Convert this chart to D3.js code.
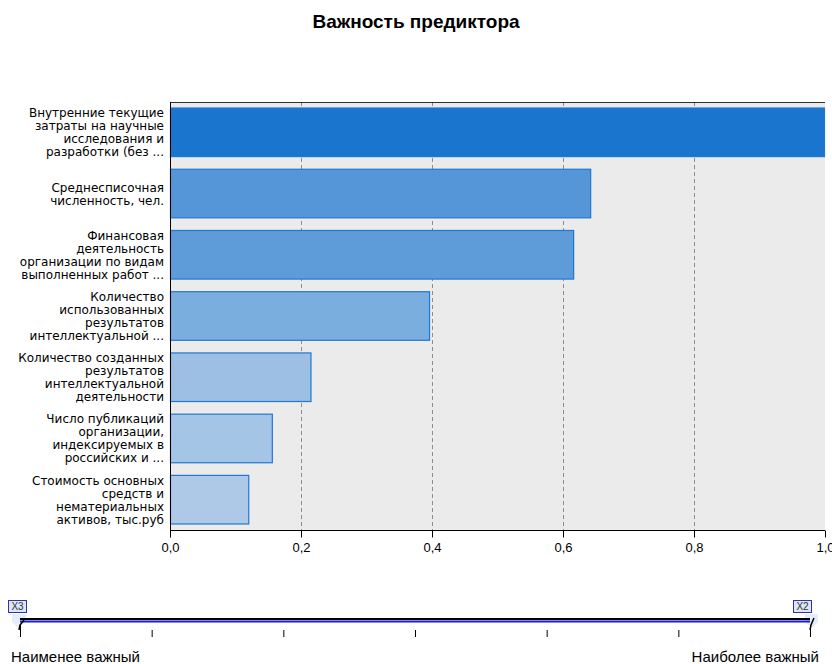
<!DOCTYPE html>
<html><head><meta charset="utf-8">
<script src="https://cdn.jsdelivr.net/npm/d3@7"></script>
<style>body{margin:0;background:#fff;}text{font-family:"Liberation Sans",Arial,sans-serif;}</style>
</head><body>
<svg id="c" width="832" height="664"></svg>
<script>
const categories = [
  ["Внутренние текущие","затраты на научные","исследования и","разработки (без ..."],
  ["Среднесписочная","численность, чел."],
  ["Финансовая","деятельность","организации по видам","выполненных работ ..."],
  ["Количество","использованных","результатов","интеллектуальной ..."],
  ["Количество созданных","результатов","интеллектуальной","деятельности"],
  ["Число публикаций","организации,","индексируемых в","российских и ..."],
  ["Стоимость основных","средств и","нематериальных","активов, тыс.руб"]
];
const values = [1.0, 0.643, 0.617, 0.397, 0.216, 0.157, 0.121];
const colors = ["#1a75cf","#5596d8","#5e9bd9","#7aaedf","#9cbfe3","#a4c5e6","#aec9e8"];
const xTicks = [0,0.2,0.4,0.6,0.8,1.0];
const sliderTicks = [0,1,2,3,4,5,6];

const svg = d3.select("#c");
const L=170,R=825,T=102,B=530;
const x = d3.scaleLinear().domain([0,1]).range([L,R]);
const y = d3.scaleBand().domain(d3.range(values.length)).range([T,B]).paddingInner(0.19).paddingOuter(0.09);

svg.append("text").attr("x",416).attr("y",28).attr("text-anchor","middle")
  .style("font-size","19px").style("font-weight","bold").text("Важность предиктора");

svg.append("rect").attr("x",L).attr("y",T).attr("width",R-L).attr("height",B-T).attr("fill","#ebebeb");

svg.append("g").selectAll("line").data(xTicks.slice(1,-1)).join("line")
  .attr("x1",d=>x(d)+0.5).attr("x2",d=>x(d)+0.5).attr("y1",T).attr("y2",B)
  .attr("stroke","#8c8c8c").attr("stroke-dasharray","4,3").attr("stroke-width",1);

svg.append("g").selectAll("rect").data(values).join("rect")
  .attr("x",x(0)+0.5).attr("y",(d,i)=>y(i)+0.5)
  .attr("width",d=>x(d)-x(0)-1).attr("height",y.bandwidth()-1)
  .attr("fill",(d,i)=>colors[i]).attr("stroke","#1f78d1").attr("stroke-width",1.2);

svg.append("line").attr("x1",L+0.5).attr("x2",L+0.5).attr("y1",T).attr("y2",B+6).attr("stroke","#000");
svg.append("line").attr("x1",L).attr("x2",R).attr("y1",T+0.5).attr("y2",T+0.5).attr("stroke","#000").attr("stroke-width",0.8);

const ax = svg.append("g").attr("transform",`translate(0,${B+0.5})`)
  .call(d3.axisBottom(x).tickValues(xTicks).tickSize(7).tickFormat(d=>d3.format(".1f")(d).replace(".",",")));
ax.select(".domain").attr("stroke","#000").attr("d",`M${L},0H${R}`);
ax.selectAll("text").style("font-size","13px").style("font-family","Liberation Sans, Arial").attr("fill","#000").attr("dy","0.9em");
ax.selectAll(".tick line").attr("stroke","#000");

const lh=13;
values.forEach((v,i)=>{
  const lines=categories[i];
  const cy=y(i)+y.bandwidth()/2;
  const t=svg.append("text").attr("text-anchor","end").style("font-family","DejaVu Sans, sans-serif").style("font-size","12px").attr("fill","#000");
  lines.forEach((s,j)=>{
    t.append("tspan").attr("x",164).attr("y",cy+(j-(lines.length-1)/2)*lh+4.5).text(s);
  });
});

const sx = d3.scaleLinear().domain([0,6]).range([20,810]);
svg.append("path").attr("d","M12,614 L26,614 L26,622 L18,628 L12,622 Z").attr("fill","#e4edf8");
svg.append("path").attr("d","M805,614 L818,614 L818,622 L812,628 L805,622 Z").attr("fill","#e4edf8");
svg.append("line").attr("x1",20).attr("x2",810).attr("y1",619).attr("y2",619).attr("stroke","#000").attr("stroke-width",2);
svg.append("line").attr("x1",20).attr("x2",810).attr("y1",621.5).attr("y2",621.5).attr("stroke","#1a1ad0").attr("stroke-width",2);
svg.append("g").selectAll("line").data(sliderTicks).join("line")
  .attr("x1",d=>sx(d)+0.5).attr("x2",d=>sx(d)+0.5)
  .attr("y1",(d,i)=>(i===0||i===6)?625:630).attr("y2",637).attr("stroke","#000");
svg.append("path").attr("d","M19,630 L20,625 L24,620").attr("fill","none").attr("stroke","#000").attr("stroke-width",1.5);
svg.append("path").attr("d","M810,630 L811,625 L814,618").attr("fill","none").attr("stroke","#000").attr("stroke-width",1.5);
[["X3",8],["X2",793]].forEach(([s,xx])=>{
  svg.append("rect").attr("x",xx+0.5).attr("y",600.5).attr("width",18).attr("height",12).attr("fill","#dbe6f7").attr("stroke","#33339a");
  svg.append("text").attr("x",xx+9.5).attr("y",610).attr("text-anchor","middle").style("font-size","10px").attr("fill","#333").text(s);
});
svg.append("text").attr("x",11).attr("y",662).style("font-size","15px").text("Наименее важный");
svg.append("text").attr("x",819).attr("y",662).attr("text-anchor","end").style("font-size","15px").text("Наиболее важный");
</script>
</body></html>
